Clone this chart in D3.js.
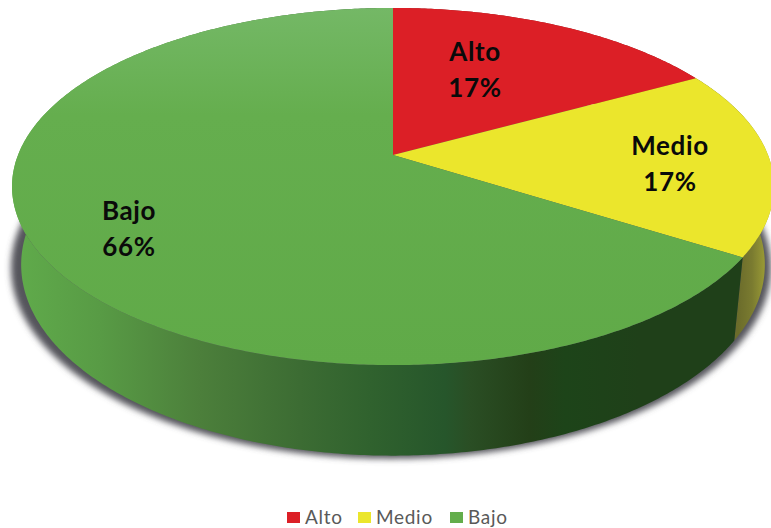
<!DOCTYPE html>
<html>
<head>
<meta charset="utf-8">
<script src="https://cdn.jsdelivr.net/npm/d3@7/dist/d3.min.js"></script>
<style>
  html, body { margin: 0; padding: 0; background: #fff; }
  svg { display: block; }
  text { font-family: Lato, "Open Sans", sans-serif; }
</style>
</head>
<body>
<svg id="chart" width="771" height="528"></svg>
<script>
// Risk levels and their shares
const categories = ["Alto", "Medio", "Bajo"];
const shares = [17, 17, 66];
const sliceColors = ["#dc1f26", "#ebe62c", "#63ad4b"];

const svg = d3.select("#chart");
const defs = svg.append("defs");

// Perspective disc: angle 0 points away from the viewer, angles run clockwise
const tilt = 0.1765;
const topFace = { cx: 393, cy: 155, rx: 375, ry: 173 };
const baseFace = { cx: 393, cy: 231, rx: 366, ry: 185 };

function project(face, angle, radius = 1) {
  const u = Math.sin(angle) * radius;
  const v = Math.cos(angle) * radius;
  const w = 1 + tilt * v;
  return [face.cx + face.rx * u / w, face.cy - face.ry * v / w];
}

function arcPoints(face, a0, a1) {
  const steps = Math.max(2, Math.ceil(Math.abs(a1 - a0) / 0.01));
  return d3.range(steps + 1).map(i => project(face, a0 + (a1 - a0) * i / steps));
}

const line = d3.line().curve(d3.curveLinear);
const closed = pts => line(pts) + "Z";

const arcs = d3.pie().sort(null).startAngle(0).endAngle(2 * Math.PI)(shares);
const color = d3.scaleOrdinal().domain(categories).range(sliceColors);

// Gradients: the side wall darkens from left to right, the top lightens toward the back
function horizontalGradient(id, stops) {
  const x = d3.scaleLinear().domain([0, 771]).range([0, 1]);
  defs.append("linearGradient")
    .attr("id", id)
    .attr("gradientUnits", "userSpaceOnUse")
    .attr("x1", 0).attr("x2", 771).attr("y1", 0).attr("y2", 0)
    .selectAll("stop").data(stops).join("stop")
    .attr("offset", d => x(d[0]))
    .attr("stop-color", d => d[1]);
}
horizontalGradient("wall-Bajo", [
  [15, "#60ab4b"], [100, "#589b45"], [200, "#4c7f3b"], [300, "#3c6c33"],
  [370, "#30622e"], [445, "#26562b"], [470, "#2a4e24"], [530, "#233f18"],
  [565, "#1d4419"], [640, "#1f4019"], [771, "#1f4019"]
]);
horizontalGradient("wall-Medio", [
  [738, "#6b6c2b"], [752, "#7a7b30"], [771, "#a8a838"]
]);
horizontalGradient("wall-Alto", [[0, "#8c1a1e"], [771, "#8c1a1e"]]);

const topGreen = defs.append("linearGradient")
  .attr("id", "top-Bajo")
  .attr("gradientUnits", "userSpaceOnUse")
  .attr("x1", 0).attr("x2", 0).attr("y1", 8).attr("y2", 365);
topGreen.append("stop").attr("offset", 0).attr("stop-color", "#74b866");
topGreen.append("stop").attr("offset", 0.3).attr("stop-color", "#65ae4e");
topGreen.append("stop").attr("offset", 1).attr("stop-color", "#60aa48");

defs.append("filter").attr("id", "soft")
  .attr("x", "-5%").attr("y", "-5%").attr("width", "110%").attr("height", "110%")
  .append("feGaussianBlur").attr("stdDeviation", 3);

// Cast shadow under the disc
const shadowFace = { cx: 391, cy: baseFace.cy + 3, rx: baseFace.rx + 8, ry: baseFace.ry };
svg.append("path")
  .attr("d", closed(arcPoints(shadowFace, 0, 2 * Math.PI)))
  .attr("fill", "#55555c")
  .attr("filter", "url(#soft)");

// Side walls, one band per slice
svg.append("g").selectAll("path").data(arcs).join("path")
  .attr("d", d => closed([
    ...arcPoints(topFace, d.startAngle, d.endAngle),
    ...arcPoints(baseFace, d.endAngle, d.startAngle)
  ]))
  .attr("fill", (d, i) => `url(#wall-${categories[i]})`);

// Top face wedges
svg.append("g").selectAll("path").data(arcs).join("path")
  .attr("d", d => closed([
    [topFace.cx, topFace.cy],
    ...arcPoints(topFace, d.startAngle, d.endAngle)
  ]))
  .attr("fill", (d, i) => categories[i] === "Bajo" ? "url(#top-Bajo)" : color(categories[i]));

// Slice labels: name over percentage
const labelAnchors = [[475, 52], [670, 146], [129, 211]];
const labels = svg.append("g").selectAll("g").data(arcs).join("g")
  .attr("transform", (d, i) => `translate(${labelAnchors[i]})`)
  .attr("text-anchor", "middle")
  .attr("font-size", 26)
  .attr("font-weight", 700)
  .attr("letter-spacing", 0.6)
  .attr("fill", "#0a0a0a");
labels.append("text").attr("dy", "0.35em").text((d, i) => categories[i]);
labels.append("text").attr("y", 36).attr("dy", "0.35em").text(d => `${d.value}%`);

// Legend along the bottom
const legendX = [287, 358, 450];
const legend = svg.append("g").selectAll("g").data(categories).join("g")
  .attr("transform", (d, i) => `translate(${legendX[i]},512)`);
legend.append("rect").attr("width", 13).attr("height", 11).attr("fill", d => color(d));
legend.append("text")
  .attr("x", 18).attr("y", 5.5).attr("dy", "0.36em")
  .attr("font-size", 19).attr("letter-spacing", 0.7).attr("fill", "#595959")
  .text(d => d);
</script>
</body>
</html>
